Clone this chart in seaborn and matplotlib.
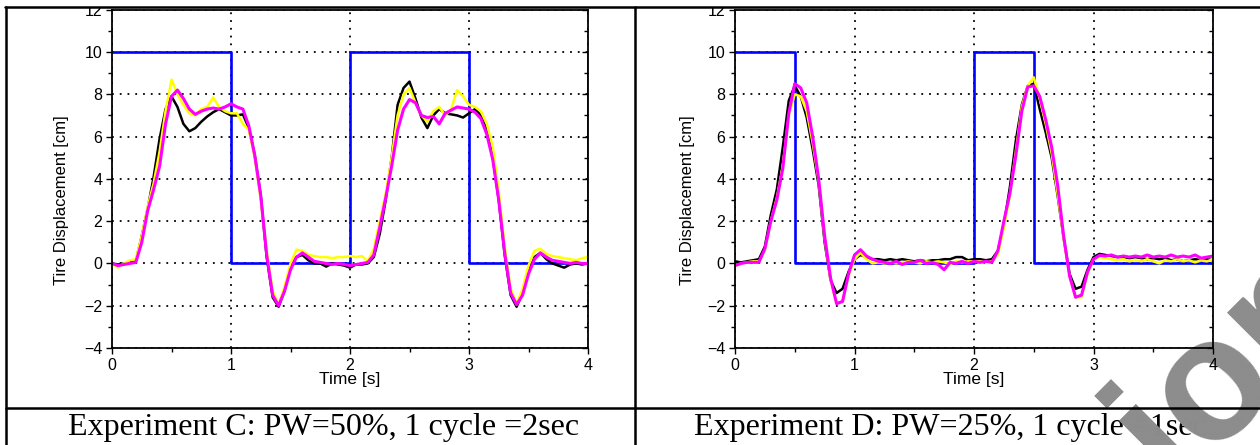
import matplotlib
matplotlib.use("Agg")
import matplotlib.pyplot as plt
from matplotlib.lines import Line2D
from matplotlib.patches import Rectangle
from matplotlib.ticker import MultipleLocator
import seaborn as sns

# sample times shared by the measured traces [s]
time = [0.00, 0.05, 0.10, 0.15, 0.20, 0.25, 0.30, 0.35, 0.40, 0.45,
        0.50, 0.55, 0.60, 0.65, 0.70, 0.75, 0.80, 0.85, 0.90, 0.95,
        1.00, 1.05, 1.10, 1.15, 1.20, 1.25, 1.30, 1.35, 1.40, 1.45,
        1.50, 1.55, 1.60, 1.65, 1.70, 1.75, 1.80, 1.85, 1.90, 1.95,
        2.00, 2.05, 2.10, 2.15, 2.20, 2.25, 2.30, 2.35, 2.40, 2.45,
        2.50, 2.55, 2.60, 2.65, 2.70, 2.75, 2.80, 2.85, 2.90, 2.95,
        3.00, 3.05, 3.10, 3.15, 3.20, 3.25, 3.30, 3.35, 3.40, 3.45,
        3.50, 3.55, 3.60, 3.65, 3.70, 3.75, 3.80, 3.85, 3.90, 3.95, 4.00]

# Experiment C (PW=50%)
c_input_t = [0, 1, 1, 2, 2, 3, 3, 4, 4]
c_input = [10, 10, 0, 0, 10, 10, 0, 0, 10]
c_black = [0.0, -0.05, 0.0, 0.05, 0.1, 1.3, 2.6, 4.1, 5.9, 7.3,
           7.9, 7.4, 6.6, 6.25, 6.4, 6.7, 6.95, 7.15, 7.3, 7.15,
           7.0, 7.0, 7.05, 6.4, 5.1, 3.2, 0.3, -1.6, -2.05, -1.3,
           -0.2, 0.3, 0.4, 0.15, 0.0, 0.0, -0.15, 0.0, -0.05, -0.1,
           -0.2, -0.05, -0.05, 0.0, 0.3, 1.4, 3.0, 5.0, 7.5, 8.3,
           8.6, 7.8, 6.9, 6.4, 7.0, 7.3, 7.1, 7.05, 7.0, 6.9,
           7.1, 7.3, 7.0, 6.3, 5.0, 3.0, 0.4, -1.5, -2.05, -1.4,
           -0.4, 0.3, 0.5, 0.2, 0.0, -0.1, -0.2, -0.05, 0.0, -0.05, 0.0]
c_yellow = [0.0, -0.2, 0.0, 0.15, 0.2, 1.3, 2.7, 3.8, 5.3, 7.2,
            8.7, 8.0, 7.5, 7.1, 7.0, 7.3, 7.4, 7.85, 7.4, 7.2,
            7.1, 7.1, 6.6, 6.3, 5.0, 3.0, 0.6, -1.3, -1.95, -1.1,
            0.0, 0.65, 0.6, 0.4, 0.35, 0.3, 0.3, 0.25, 0.3, 0.3,
            0.35, 0.3, 0.35, 0.1, 0.7, 2.0, 3.3, 5.0, 7.0, 8.0,
            8.3, 7.6, 7.0, 6.7, 7.2, 7.4, 7.0, 7.3, 8.2, 7.9,
            7.5, 7.4, 7.2, 6.6, 5.5, 3.4, 0.8, -1.2, -1.9, -1.2,
            -0.1, 0.6, 0.7, 0.45, 0.35, 0.3, 0.25, 0.2, 0.15, 0.25, 0.3]
c_magenta = [0.0, -0.1, -0.05, 0.0, 0.05, 1.0, 2.5, 3.5, 4.6, 6.6,
             7.9, 8.2, 7.8, 7.3, 7.05, 7.2, 7.3, 7.35, 7.3, 7.4,
             7.55, 7.4, 7.3, 6.5, 5.1, 3.2, 0.4, -1.5, -2.0, -1.3,
             -0.3, 0.3, 0.5, 0.3, 0.1, 0.05, 0.0, -0.05, 0.0, -0.05,
             -0.1, -0.05, 0.0, 0.05, 0.4, 1.7, 3.1, 4.6, 6.3, 7.3,
             7.75, 7.6, 7.0, 6.9, 6.95, 6.6, 7.1, 7.25, 7.4, 7.35,
             7.3, 7.15, 6.85, 6.1, 4.9, 3.0, 0.5, -1.4, -1.95, -1.5,
             -0.5, 0.2, 0.5, 0.3, 0.15, 0.1, 0.05, 0.0, 0.05, 0.0, 0.0]

# Experiment D (PW=25%)
d_input_t = [0, 0.5, 0.5, 2, 2, 2.5, 2.5, 4, 4]
d_input = [10, 10, 0, 0, 10, 10, 0, 0, 10]
d_black = [0.1, 0.05, 0.1, 0.15, 0.2, 0.8, 2.3, 3.5, 5.5, 7.7,
           8.4, 7.9, 6.9, 5.4, 3.7, 1.0, -0.8, -1.4, -1.2, -0.4,
           0.2, 0.4, 0.3, 0.2, 0.2, 0.15, 0.2, 0.15, 0.2, 0.15,
           0.1, 0.15, 0.1, 0.15, 0.15, 0.2, 0.2, 0.3, 0.3, 0.15,
           0.2, 0.2, 0.15, 0.2, 0.6, 1.8, 3.6, 5.8, 7.5, 8.4,
           8.5, 7.3, 6.2, 5.0, 3.2, 1.2, -0.5, -1.2, -1.1, -0.3,
           0.3, 0.45, 0.4, 0.35, 0.3, 0.3, 0.25, 0.3, 0.25, 0.2,
           0.25, 0.2, 0.25, 0.15, 0.2, 0.1, 0.15, 0.2, 0.15, 0.2, 0.15]
d_yellow = [-0.15, 0.0, 0.05, 0.1, 0.1, 0.6, 2.0, 3.1, 4.6, 7.0,
            8.0, 7.9, 7.2, 5.7, 3.9, 1.2, -0.8, -1.9, -1.8, -0.6,
            0.2, 0.5, 0.2, 0.0, 0.05, 0.0, 0.05, 0.0, 0.05, 0.1,
            0.05, 0.0, 0.1, 0.05, 0.1, 0.05, -0.05, 0.1, 0.05, 0.1,
            0.1, 0.1, 0.05, 0.1, 0.4, 1.7, 3.2, 5.3, 7.4, 8.4,
            8.8, 7.8, 6.6, 5.2, 3.3, 1.2, -0.6, -1.6, -1.6, -0.5,
            0.2, 0.3, 0.25, 0.2, 0.15, 0.2, 0.1, 0.15, 0.1, 0.2,
            0.1, 0.0, 0.15, 0.1, 0.2, 0.1, 0.15, 0.05, 0.15, 0.1, 0.2]
d_magenta = [-0.1, 0.0, 0.05, 0.05, 0.05, 0.7, 2.0, 3.0, 4.5, 7.1,
             8.5, 8.3, 7.6, 6.0, 4.0, 1.3, -0.7, -1.9, -1.8, -0.5,
             0.4, 0.65, 0.35, 0.2, 0.1, 0.05, 0.0, 0.1, -0.05, 0.05,
             0.05, 0.15, 0.0, 0.05, -0.05, -0.3, 0.05, 0.0, 0.1, 0.0,
             0.1, 0.05, 0.1, 0.05, 0.6, 2.0, 3.3, 5.1, 7.2, 8.35,
             8.4, 7.9, 6.8, 5.5, 3.7, 1.3, -0.6, -1.6, -1.5, -0.4,
             0.2, 0.38, 0.35, 0.4, 0.3, 0.35, 0.3, 0.35, 0.3, 0.4,
             0.3, 0.35, 0.3, 0.4, 0.3, 0.35, 0.3, 0.4, 0.25, 0.3, 0.35]

captions = ["Experiment C: PW=50%, 1 cycle =2sec",
            "Experiment D: PW=25%, 1 cycle =1sec"]

sns.set_theme(style="white")
plt.rcParams['font.family'] = ['Liberation Sans', 'DejaVu Sans']

W, H = 1260, 445
fig = plt.figure(figsize=(12.6, 4.45), dpi=100)

panels = [
    (112, 476, c_input_t, c_input, c_black, c_yellow, c_magenta, 69, 324),
    (735, 478, d_input_t, d_input, d_black, d_yellow, d_magenta, 695, 950),
]

for i, (x0, w, it, iv, blk, yel, mag, ylab_x, cap_x) in enumerate(panels):
    top, bottom = 9.7, 348
    ax = fig.add_axes([x0 / W, 1 - bottom / H, w / W, (bottom - top) / H])
    ax.patch.set_alpha(0)

    sns.lineplot(x=it, y=iv, ax=ax, color='#0000ff', lw=1.9,
                 estimator=None, sort=False)
    sns.lineplot(x=time, y=blk, ax=ax, color='black', lw=1.8, estimator=None)
    sns.lineplot(x=time, y=yel, ax=ax, color='#ffff00', lw=1.8, estimator=None)
    sns.lineplot(x=time, y=mag, ax=ax, color='#ff00ff', lw=2.2, estimator=None)

    ax.set_xlim(0, 4)
    ax.set_ylim(-4, 12)
    ax.xaxis.set_major_locator(MultipleLocator(1))
    ax.xaxis.set_minor_locator(MultipleLocator(0.5))
    ax.yaxis.set_major_locator(MultipleLocator(2))
    ax.yaxis.set_minor_locator(MultipleLocator(1))
    ax.set_axisbelow(True)
    ax.grid(which='major', color='black', lw=1.3, ls=(0, (1, 3.3)))
    ax.tick_params(which='both', direction='out', color='black',
                   labelsize=11.5, labelcolor='black', bottom=True, left=True)
    ax.tick_params(which='major', length=4, width=1, pad=3)
    ax.tick_params(which='minor', length=3, width=1)
    for s in ax.spines.values():
        s.set_color('black')
        s.set_linewidth(1.3)

    sec = ax.secondary_yaxis('right')
    sec.yaxis.set_major_locator(MultipleLocator(2))
    sec.yaxis.set_minor_locator(MultipleLocator(1))
    sec.tick_params(which='both', direction='in', labelright=False,
                    color='black', width=1)
    sec.tick_params(which='major', length=4)
    sec.tick_params(which='minor', length=3)
    sec.spines['right'].set_visible(False)

    ax.set_xlabel("Time [s]", fontsize=12.5, color='black')
    ax.set_ylabel("Tire Displacement [cm]", fontsize=12, color='black')
    ax.xaxis.set_label_coords(0.5, -(372 - bottom) / (bottom - top))
    ax.yaxis.set_label_coords((ylab_x - x0) / w, (bottom - 200) / (bottom - top))

    fig.text(cap_x / W, 1 - 428 / H, captions[i],
             family='Liberation Serif', fontsize=23, color='black',
             ha='center', va='center', zorder=-2)

# watermark: over the captions, under the plots
fig.text(1172 / W, 1 - 486 / H, "ion", rotation=45, rotation_mode='anchor',
         ha='left', va='baseline', fontsize=125, fontweight='bold',
         family='Liberation Sans', color='#8c8c8c', zorder=-1)

# white margin above the table frame
fig.add_artist(Rectangle((0, 1 - 7 / H), 1, 7 / H, transform=fig.transFigure,
                         facecolor='white', edgecolor='none', zorder=5))

# table frame
frame_kw = dict(color='black', lw=1.8, transform=fig.transFigure, zorder=6)
fig.add_artist(Line2D([5 / W, 1], [1 - 7 / H, 1 - 7 / H], **frame_kw))
fig.add_artist(Line2D([6 / W, 6 / W], [0, 1 - 7 / H], **frame_kw))
fig.add_artist(Line2D([635 / W, 635 / W], [0, 1 - 7 / H], **frame_kw))
fig.add_artist(Line2D([6 / W, 1], [1 - 408 / H, 1 - 408 / H], **frame_kw))

fig.savefig("out.png", dpi=100)
